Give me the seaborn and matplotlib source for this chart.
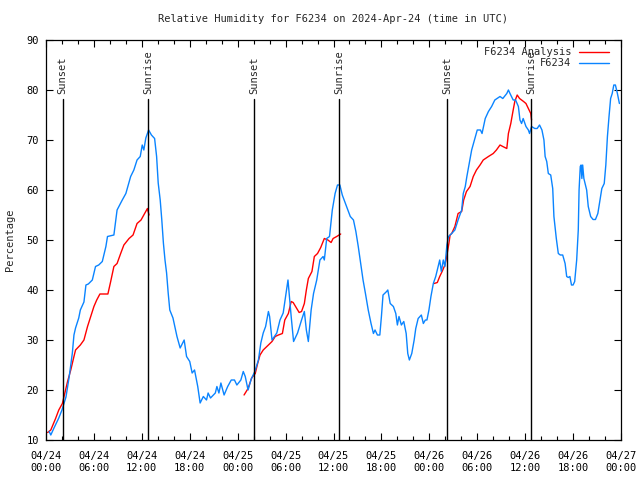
import pandas as pd
import matplotlib
matplotlib.use("Agg")
import matplotlib.pyplot as plt
import matplotlib.dates as mdates
from matplotlib.lines import Line2D
import seaborn as sns

# station F6234, hours after 2024-04-24 00:00 UTC
obs_hours = [0.4, 0.6, 1.0, 1.6, 2.0, 2.5, 2.9, 3.1, 3.3, 3.5, 3.7, 4.1, 4.3, 4.75, 5.0, 5.3, 5.8,
             6.2, 6.6, 7.05, 7.5, 7.7, 8.5, 8.9, 9.55, 10.0, 10.6, 11.0, 11.4, 11.8, 12.05, 12.25,
             12.5, 12.85, 13.2, 13.6, 13.85, 14.05, 14.3, 14.5, 14.7, 14.9, 15.1, 15.3, 15.5, 15.9,
             16.4, 16.8, 17.3, 17.6, 18.0, 18.3, 18.6, 19.0, 19.3, 19.7, 20.1, 20.3, 20.6, 21.2,
             21.4, 21.65, 21.9, 22.3, 22.75, 23.2, 23.6, 23.9, 24.4, 24.7, 24.95, 25.3, 25.7, 26.15,
             26.6, 26.9, 27.2, 27.5, 27.85, 28.0, 28.3, 28.9, 29.3, 29.7, 30.0, 30.3, 30.7, 31.0,
             31.5, 32.0, 32.35, 32.6, 32.85, 33.2, 33.5, 33.9, 34.3, 34.7, 34.85, 35.15, 35.5,
             35.85, 36.2, 36.5, 36.8, 37.1, 37.5, 37.8, 38.1, 38.5, 38.8, 39.1, 39.4, 39.7, 40.0,
             40.35, 40.7, 41.0, 41.2, 41.5, 41.8, 42.0, 42.2, 42.65, 42.8, 43.1, 43.5, 43.8, 44.0,
             44.2, 44.5, 44.8, 45.1, 45.3, 45.5, 45.8, 46.1, 46.3, 46.6, 47.0, 47.25, 47.5, 47.7,
             47.95, 48.2, 48.5, 48.8, 49.1, 49.3, 49.5, 49.75, 49.95, 50.2, 50.4, 50.8, 51.2, 51.6,
             52.05, 52.25, 52.5, 52.7, 53.0, 53.3, 53.7, 54.0, 54.4, 54.6, 55.0, 55.4, 55.8, 56.2,
             56.85, 57.2, 57.7, 57.9, 58.1, 58.5, 58.8, 59.15, 59.35, 59.55, 59.75, 60.1, 60.4,
             60.55, 60.8, 61.2, 61.5, 61.8, 62.1, 62.35, 62.5, 62.7, 62.9, 63.2, 63.45, 63.6, 63.9,
             64.15, 64.4, 64.7, 65.0, 65.2, 65.4, 65.6, 65.8, 66.0, 66.2, 66.45, 66.65, 66.75, 66.9,
             67.0, 67.1, 67.2, 67.35, 67.7, 67.9, 68.2, 68.5, 68.8, 69.1, 69.3, 69.6, 69.9, 70.1,
             70.3, 70.5, 70.7, 70.9, 71.1, 71.3, 71.55, 71.8]
obs_rh = [11.7, 11.0, 12.4, 14.4, 16.0, 18.6, 22.6, 25.0, 27.4, 31.0, 32.4, 34.4, 36.0, 37.6, 41.0,
          41.2, 42.0, 44.7, 45.0, 45.7, 48.7, 50.7, 51.0, 56.0, 58.0, 59.3, 62.7, 64.0, 66.0, 66.7,
          69.0, 68.0, 70.4, 72.0, 71.0, 70.3, 66.7, 61.4, 58.0, 54.0, 49.4, 46.0, 43.4, 39.4, 36.0,
          34.4, 30.7, 28.4, 30.0, 26.7, 25.7, 23.4, 24.0, 20.7, 17.4, 18.7, 18.0, 19.4, 18.4, 19.4,
          20.7, 19.4, 21.4, 19.0, 20.7, 22.0, 22.0, 21.0, 22.0, 23.7, 22.7, 20.0, 22.2, 23.7, 26.0,
          29.4, 31.4, 32.7, 35.7, 34.7, 30.0, 31.4, 34.0, 35.4, 38.7, 42.0, 34.7, 29.7, 31.4, 34.0,
          35.7, 32.0, 29.7, 36.0, 39.3, 42.0, 46.0, 46.7, 46.0, 50.3, 50.7, 56.0, 59.3, 61.0, 61.0,
          59.0, 57.3, 56.0, 54.7, 54.0, 51.7, 48.7, 45.3, 42.0, 39.3, 36.0, 33.3, 31.3, 32.0, 31.0,
          31.0, 34.7, 39.0, 39.7, 40.0, 37.3, 36.7, 35.3, 33.0, 34.7, 33.0, 33.7, 31.3, 27.3, 26.0,
          27.3, 30.0, 32.3, 34.3, 35.0, 33.3, 34.0, 34.0, 36.0, 38.7, 41.3, 42.7, 44.7, 46.0, 43.7,
          46.0, 44.7, 49.0, 50.7, 51.3, 52.0, 54.0, 56.0, 59.3, 60.7, 62.7, 65.3, 68.0, 70.3, 72.0,
          72.0, 71.3, 74.3, 75.7, 76.7, 78.0, 78.7, 78.3, 79.3, 80.0, 79.3, 78.0, 78.0, 76.7, 74.0,
          73.3, 74.3, 72.7, 72.0, 71.3, 72.7, 72.3, 72.3, 73.0, 72.0, 70.0, 66.7, 65.7, 63.3, 63.0,
          60.3, 54.7, 50.3, 47.3, 47.0, 47.0, 45.3, 42.7, 42.5, 42.7, 41.0, 41.0, 41.7, 46.0, 52.0,
          60.0, 64.7, 65.0, 62.3, 65.0, 62.3, 60.0, 56.7, 54.7, 54.1, 54.1, 55.3, 57.3, 60.3, 61.3,
          65.0, 70.7, 74.7, 78.3, 79.3, 81.0, 81.0, 79.3, 77.3]

# analysis, three separate runs
ana_hours = [0.2, 0.6, 1.2, 1.6, 2.05, 2.45, 2.7, 3.1, 3.5, 3.7, 4.3, 4.75, 5.2, 5.6, 6.0, 6.35,
             6.75, 7.75, 8.1, 8.5, 8.9, 9.35, 9.75, 10.4, 10.9, 11.4, 11.9, 12.35, 12.7, 12.9,
             24.8, 25.3, 25.75, 26.2, 26.5, 26.8, 27.2, 27.85, 28.3, 28.7, 29.1, 29.6, 29.9, 30.35,
             30.7, 30.95, 31.25, 31.7, 32.0, 32.35, 32.6, 32.85, 33.3, 33.6, 34.0, 34.4, 34.85,
             35.3, 35.7, 35.95, 36.4, 36.9,
             48.6, 49.0, 49.3, 49.6, 49.95, 50.15, 50.45, 50.6, 50.8, 51.2, 51.6, 52.05, 52.3,
             52.65, 53.1, 53.5, 53.9, 54.35, 54.75, 55.4, 56.0, 56.4, 56.85, 57.2, 57.7, 57.9,
             58.2, 58.5, 58.7, 59.0, 59.3, 59.8, 60.1, 60.4, 60.7, 60.8]
ana_rh = [11.5, 12.0, 14.3, 16.0, 17.3, 20.0, 21.7, 24.0, 26.7, 28.0, 29.0, 30.0, 32.7, 34.7, 36.7,
          38.0, 39.2, 39.2, 41.7, 44.7, 45.3, 47.3, 49.0, 50.3, 51.0, 53.3, 54.0, 55.3, 56.3, 55.0,
          19.0, 20.3, 22.4, 23.3, 25.3, 27.0, 28.0, 29.0, 29.7, 30.7, 31.0, 31.3, 34.0, 35.3, 37.7,
          37.5, 36.7, 35.5, 35.7, 37.3, 40.0, 42.3, 43.7, 46.7, 47.3, 48.5, 50.3, 50.0, 49.5, 50.3,
          50.7, 51.2,
          41.3, 41.5, 42.7, 43.7, 45.0, 46.5, 49.3, 51.0, 51.3, 52.7, 55.3, 55.7, 58.0, 59.7, 60.7,
          62.7, 64.0, 65.0, 66.0, 66.7, 67.3, 68.0, 69.0, 68.7, 68.3, 71.3, 73.3, 76.0, 77.7, 79.0,
          78.3, 77.7, 77.3, 76.3, 75.3, 74.0]
ana_run = [1] * 30 + [2] * 32 + [3] * 36

sun_times = ["2024-04-24 02:05", "2024-04-24 12:48", "2024-04-25 02:05",
             "2024-04-25 12:41", "2024-04-26 02:15", "2024-04-26 12:46"]
sun_labels = ["Sunset", "Sunrise", "Sunset", "Sunrise", "Sunset", "Sunrise"]

start = pd.Timestamp("2024-04-24 00:00")
obs = pd.DataFrame({"time": start + pd.to_timedelta(obs_hours, unit="h"), "rh": obs_rh})
ana = pd.DataFrame({"time": start + pd.to_timedelta(ana_hours, unit="h"), "rh": ana_rh,
                    "run": ana_run})

sns.set_theme(style="ticks", rc={"axes.edgecolor": "black", "axes.linewidth": 0.9,
                                 "xtick.color": "black", "ytick.color": "black"})
plt.rcParams["font.family"] = ["DejaVu Sans Mono"]

fig = plt.figure(figsize=(6.4, 4.8), dpi=100)
ax = fig.add_axes([46 / 640, 40 / 480, 575 / 640, 400 / 480])

sns.lineplot(data=ana, x="time", y="rh", units="run", estimator=None, color="#ff0000",
             linewidth=1.0, ax=ax, legend=False)
sns.lineplot(data=obs, x="time", y="rh", color="#0a84ff", linewidth=1.0, ax=ax, legend=False)

line_top = 78.2
for t, lab in zip(sun_times, sun_labels):
    ts = pd.Timestamp(t)
    ax.axvline(ts, ymin=0, ymax=(line_top - 10) / 80, color="black", linewidth=1.0)
    ax.text(ts, line_top + 1.0, lab, rotation=90, ha="center", va="bottom", fontsize=7.5)

ax.set_xlim(start, pd.Timestamp("2024-04-27 00:00"))
ax.set_ylim(10, 90)
ax.set_yticks(range(10, 91, 10))
ax.xaxis.set_major_locator(mdates.HourLocator(byhour=[0, 6, 12, 18]))
ax.xaxis.set_minor_locator(mdates.HourLocator(byhour=range(0, 24, 2)))
ax.xaxis.set_major_formatter(mdates.DateFormatter("%m/%d\n%H:%M"))
ax.tick_params(which="both", direction="in", top=True, right=True, labelsize=7.5, width=0.8)
ax.tick_params(which="major", length=5)
ax.tick_params(which="minor", length=3)
ax.tick_params(axis="x", pad=8)
ax.tick_params(axis="y", pad=5)

ax.set_xlabel("")
ax.set_ylabel("Percentage", fontsize=7.5, labelpad=8)
ax.set_title("Relative Humidity for F6234 on 2024-Apr-24 (time in UTC)", fontsize=7.5, pad=13)

handles = [Line2D([], [], color="#ff0000", linewidth=1.0),
           Line2D([], [], color="#0a84ff", linewidth=1.0)]
ax.legend(handles, ["F6234 Analysis", "F6234"], loc="upper right",
          bbox_to_anchor=(1 - 5 / 575, 1), frameon=False,
          markerfirst=False, fontsize=7.5, handlelength=2.9, labelspacing=0.1,
          borderaxespad=0.3, handletextpad=0.7)

fig.savefig("out.png", dpi=100)
